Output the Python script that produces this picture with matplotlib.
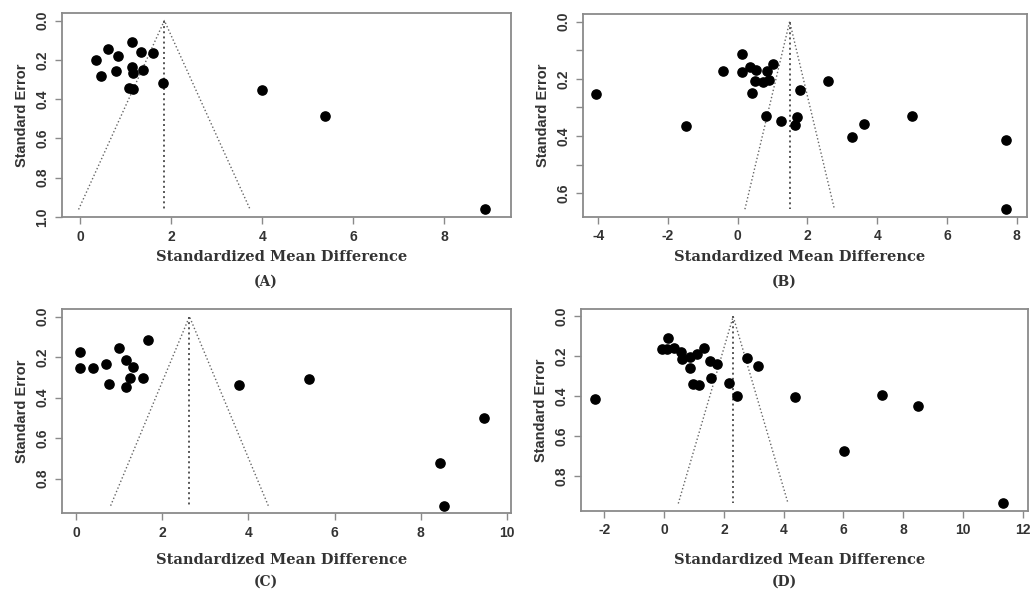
import numpy as np
from matplotlib import pyplot as plt

# Estudos de cada meta-analise: SMD e erro padrao
smdA = [0.35, 0.45, 0.62, 0.84, 0.79, 1.14, 1.34, 1.61, 1.14, 1.17, 1.38, 1.08, 1.17, 1.83, 3.99, 5.38, 8.89]
seA = [0.203, 0.283, 0.144, 0.181, 0.258, 0.110, 0.158, 0.166, 0.234, 0.268, 0.250, 0.342, 0.347, 0.319, 0.352, 0.488, 0.962]
centerA = 1.85

smdB = [0.11, -0.43, 0.13, 0.35, 0.53, 0.83, 1.00, 0.50, 0.72, 0.91, 0.40, 1.79, 0.81, 1.24, 1.71, 1.64,
        2.60, 3.29, 3.63, 5.01, 7.69, 7.69, -4.07, -1.49]
seB = [0.113, 0.174, 0.177, 0.157, 0.169, 0.171, 0.150, 0.206, 0.212, 0.204, 0.250, 0.238, 0.331, 0.348, 0.333, 0.362,
       0.206, 0.403, 0.358, 0.331, 0.412, 0.655, 0.252, 0.363]
centerB = 1.49

smdC = [0.08, 0.09, 0.40, 0.69, 0.77, 1.00, 1.16, 1.33, 1.24, 1.16, 1.55, 1.66, 3.77, 5.40, 9.48, 8.45, 8.53]
seC = [0.173, 0.252, 0.252, 0.233, 0.335, 0.153, 0.216, 0.249, 0.302, 0.348, 0.302, 0.117, 0.340, 0.307, 0.503, 0.723, 0.934]
centerC = 2.63

smdD = [0.14, -0.08, 0.11, 0.33, 0.56, 0.59, 0.85, 1.09, 1.32, 0.85, 1.52, 1.76, 0.98, 1.15, 1.57, 2.18, 2.45,
        2.78, 3.15, -2.31, 4.38, 7.30, 8.49, 6.03, 11.35]
seD = [0.109, 0.162, 0.165, 0.159, 0.179, 0.212, 0.204, 0.187, 0.159, 0.259, 0.225, 0.237, 0.339, 0.344, 0.306, 0.331, 0.399,
       0.209, 0.248, 0.414, 0.403, 0.394, 0.449, 0.676, 0.937]
centerD = 2.31

W, H = 1030, 591
fig = plt.figure(figsize=(W / 100, H / 100), dpi=100)

TICKFONT = dict(family='Liberation Sans', size=10, weight='bold', color='#333333')
FRAME = '#8a8a8a'


def funnel(pos, smd, se, center, xlim, xticks, yticks, ylabels, letter, labely, lettery):
    ax = fig.add_axes(pos)
    smd = np.array(smd)
    se = np.array(se)
    semax = se.max()

    # funil de 95% e linha do efeito combinado
    ax.plot([center - 1.96 * semax, center, center + 1.96 * semax], [semax, 0, semax],
            ls=':', lw=1.0, color='#666666')
    ax.plot([center, center], [0, semax], ls=':', lw=1.4, color='#555555')
    ax.scatter(smd, se, s=44, color='black', zorder=3)

    ax.set_xlim(xlim)
    ax.set_ylim(semax * 1.04, -semax * 0.04)
    ax.set_xticks(xticks)
    ax.set_yticks(yticks)
    ax.set_xticklabels([str(t) for t in xticks], fontdict=TICKFONT)
    ax.set_yticklabels(ylabels, fontdict=TICKFONT, rotation=90, va='center')
    ax.tick_params(length=5, width=1, color=FRAME, pad=4)
    for sp in ax.spines.values():
        sp.set_color(FRAME)
        sp.set_linewidth(1.3)

    ax.set_ylabel('Standard Error', family='Liberation Sans', size=10.5, weight='bold', color='#333333', labelpad=5)

    x0 = pos[0] + pos[2] * 0.5
    fig.text(x0 - 0.005, 1 - labely / H, 'Standardized Mean Difference', family='DejaVu Serif',
             size=10.5, weight='bold', color='#333333', ha='center', va='center')
    fig.text(x0 - 0.02, 1 - lettery / H, '(' + letter + ')', family='DejaVu Serif',
             size=10, weight='bold', color='#333333', ha='center', va='center')
    return ax


funnel([0.0602, 0.6328, 0.4359, 0.3452], smdA, seA, centerA, (-0.40, 9.47), [0, 2, 4, 6, 8],
       [0, 0.2, 0.4, 0.6, 0.8, 1.0], ['0.0', '0.2', '0.4', '0.6', '0.8', '1.0'], 'A', 257, 282)
funnel([0.5663, 0.6333, 0.4305, 0.3430], smdB, seB, centerB, (-4.43, 8.29), [-4, -2, 0, 2, 4, 6, 8],
       [0, 0.1, 0.2, 0.3, 0.4, 0.5, 0.6], ['0.0', '', '0.2', '', '0.4', '', '0.6'], 'B', 257, 282)
funnel([0.0602, 0.1315, 0.4356, 0.3457], smdC, seC, centerC, (-0.33, 10.09), [0, 2, 4, 6, 8, 10],
       [0, 0.2, 0.4, 0.6, 0.8], ['0.0', '0.2', '0.4', '0.6', '0.8'], 'C', 560, 582)
funnel([0.5641, 0.1354, 0.4342, 0.3418], smdD, seD, centerD, (-2.78, 12.18), [-2, 0, 2, 4, 6, 8, 10, 12],
       [0, 0.2, 0.4, 0.6, 0.8], ['0.0', '0.2', '0.4', '0.6', '0.8'], 'D', 560, 582)

plt.savefig('out.png', dpi=100)
plt.close()
